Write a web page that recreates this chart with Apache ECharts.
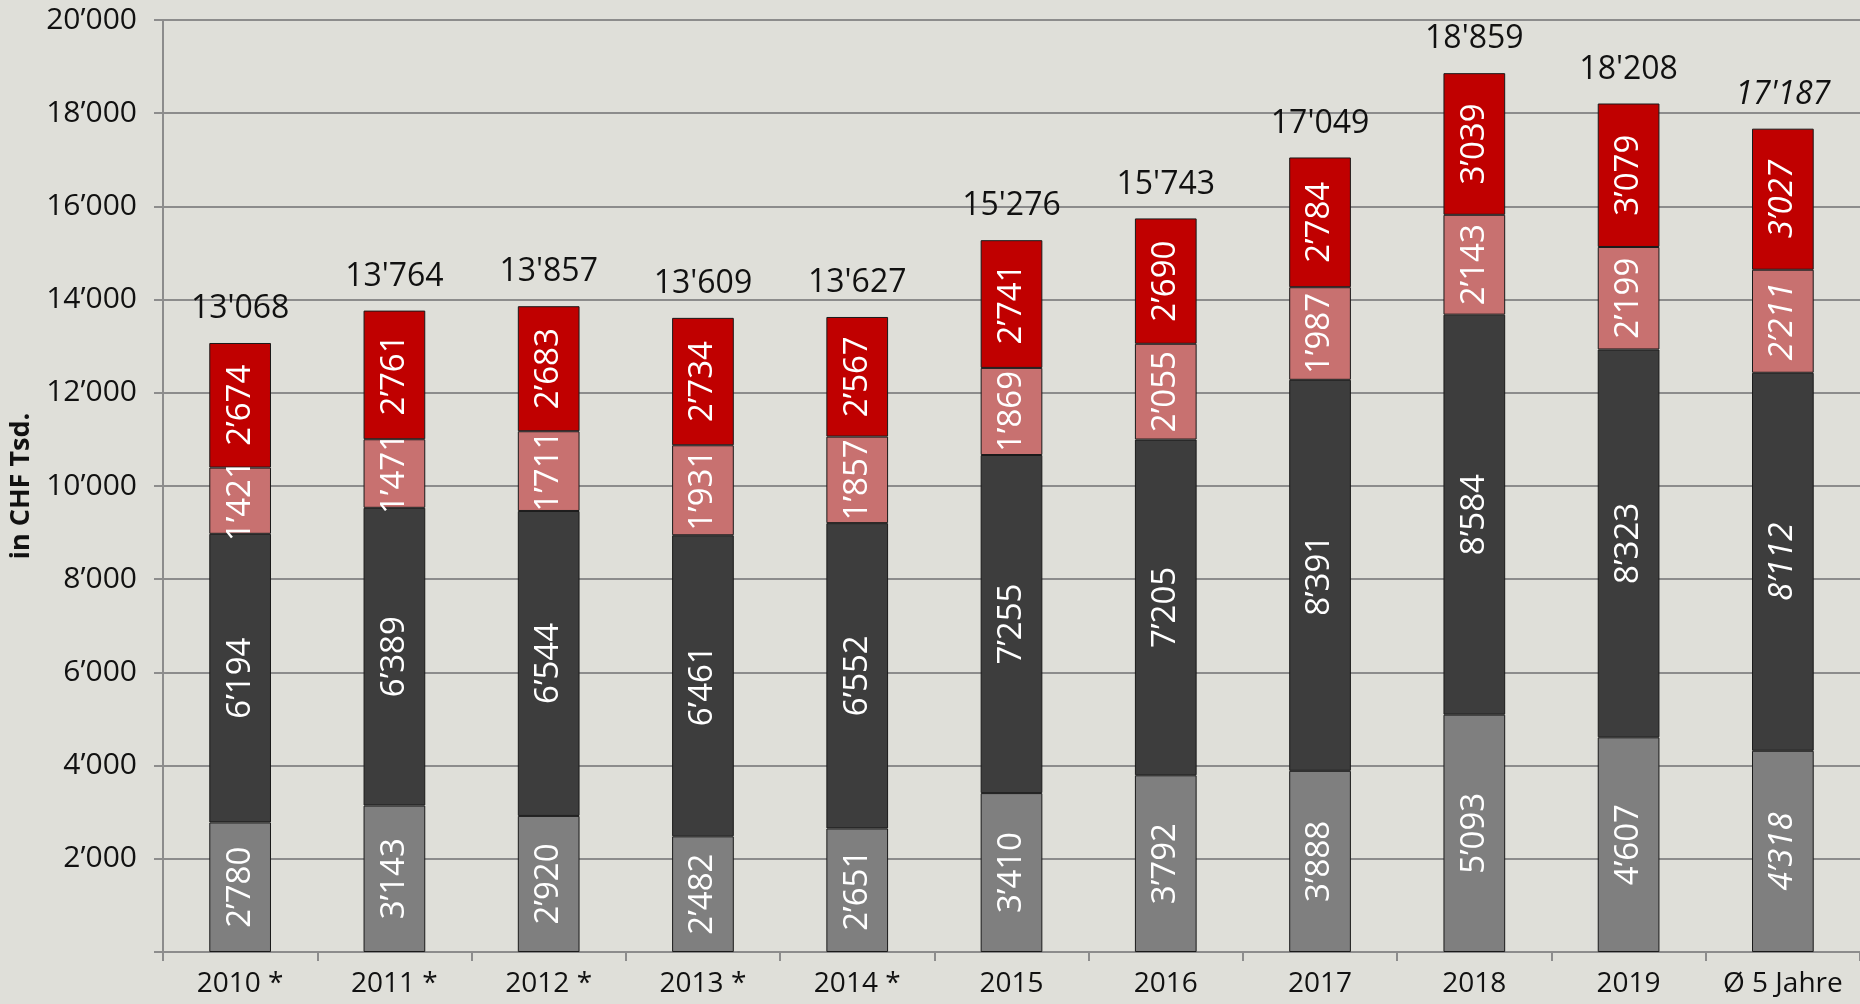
<!DOCTYPE html>
<html>
<head>
<meta charset="utf-8">
<script src="https://cdn.jsdelivr.net/npm/echarts@6/dist/echarts.min.js"></script>
<style>
  html, body { margin: 0; padding: 0; background: #dfdfd9; }
  #chart { width: 1860px; height: 1004px; }
</style>
</head>
<body>
<div id="chart"></div>
<script>
// Kategorien und Werte (in CHF Tsd.)
const categories = ["2010 *", "2011 *", "2012 *", "2013 *", "2014 *", "2015", "2016", "2017", "2018", "2019", "Ø 5 Jahre"];
const grauWerte = [2780, 3143, 2920, 2482, 2651, 3410, 3792, 3888, 5093, 4607, 4318];
const dunkelWerte = [6194, 6389, 6544, 6461, 6552, 7255, 7205, 8391, 8584, 8323, 8112];
const rosaWerte = [1421, 1471, 1711, 1931, 1857, 1869, 2055, 1987, 2143, 2199, 2211];
const rotWerte = [2674, 2761, 2683, 2734, 2567, 2741, 2690, 2784, 3039, 3079, 3027];
const totals = [13068, 13764, 13857, 13609, 13627, 15276, 15743, 17049, 18859, 18208, 17187];
const yTicks = [0, 2000, 4000, 6000, 8000, 10000, 12000, 14000, 16000, 18000, 20000];

const FONT = "'Open Sans', 'Noto Sans', sans-serif";
const lastIdx = categories.length - 1;

// Tausendertrennzeichen
const fmt = (v, sep) => String(v).replace(/\B(?=(\d{3})+(?!\d))/g, sep);

const chart = echarts.init(document.getElementById("chart"));

// Segment-Serie mit weissen, gedrehten Labels (letzte Säule kursiv)
const segment = (name, values, color) => ({
  name,
  type: "bar",
  stack: "total",
  barWidth: "40%",
  itemStyle: { color, borderColor: "#1a1a1a", borderWidth: 1 },
  label: {
    show: true,
    position: "inside",
    rotate: 90,
    color: "#ffffff",
    fontSize: 33,
    fontFamily: FONT,
    formatter: (p) => fmt(p.value, "’"),
  },
  data: values.map((v, i) =>
    i === lastIdx ? { value: v, label: { fontStyle: "italic" } } : v
  ),
});

const option = {
  backgroundColor: "#dfdfd9",
  animation: false,
  grid: { left: 163, right: 0, top: 20, bottom: 52, outerBoundsMode: "none", containLabel: false },
  xAxis: {
    type: "category",
    data: categories,
    axisLine: { lineStyle: { color: "#8c8c8c", width: 2 } },
    axisTick: { show: true, interval: 0, length: 9, lineStyle: { color: "#8c8c8c", width: 2 } },
    axisLabel: { interval: 0, color: "#111", fontSize: 28, fontFamily: FONT, margin: 18 },
  },
  yAxis: {
    type: "value",
    min: yTicks[0],
    max: yTicks[yTicks.length - 1],
    interval: 2000,
    name: "in CHF Tsd.",
    nameLocation: "middle",
    nameRotate: 90,
    nameGap: 126,
    nameTextStyle: { color: "#111", fontSize: 27, fontWeight: "bold", fontFamily: FONT },
    axisLine: { show: true, lineStyle: { color: "#8c8c8c", width: 2 } },
    axisTick: { show: true, length: 9, lineStyle: { color: "#8c8c8c", width: 2 } },
    splitLine: { lineStyle: { color: "#8c8c8c", width: 2 } },
    axisLabel: {
      color: "#111",
      fontSize: 30,
      fontFamily: FONT,
      margin: 26,
      formatter: (v) => (v === 0 ? "" : fmt(v, "’")),
    },
  },
  series: [
    segment("grau", grauWerte, "#7f7f7f"),
    segment("dunkel", dunkelWerte, "#3d3d3d"),
    segment("rosa", rosaWerte, "#c87170"),
    segment("rot", rotWerte, "#c00000"),
    {
      // Summen oberhalb der Säulen
      name: "Total",
      type: "bar",
      stack: "total",
      barWidth: "40%",
      itemStyle: { color: "transparent", borderWidth: 0 },
      label: {
        show: true,
        position: "top",
        distance: 18,
        color: "#111",
        fontSize: 32,
        fontFamily: FONT,
        formatter: (p) => fmt(totals[p.dataIndex], "'"),
      },
      data: totals.map((t, i) =>
        i === lastIdx ? { value: 0, label: { fontStyle: "italic" } } : 0
      ),
    },
  ],
};

chart.setOption(option);
</script>
</body>
</html>
